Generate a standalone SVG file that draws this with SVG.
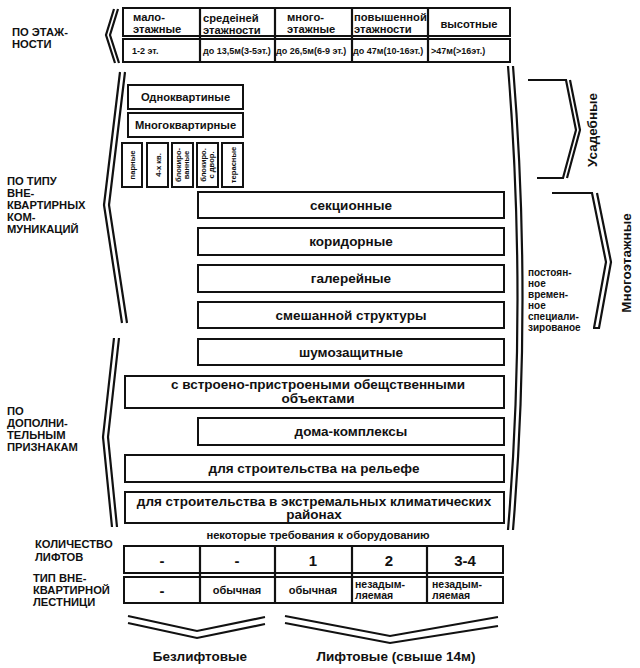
<svg xmlns="http://www.w3.org/2000/svg" width="640" height="668" viewBox="0 0 640 668">
<style>
text{font-family:"Liberation Sans",Arial,sans-serif;font-weight:bold;fill:#111}
.box{fill:#fff;stroke:#111;stroke-width:2}
.ln{fill:none;stroke:#111;stroke-width:2.2;stroke-linejoin:miter}
.c{text-anchor:middle}
.lbl{font-size:11.2px}
.t1{font-size:11.2px}
.t2{font-size:9px}
.m{font-size:13.5px}
.v{font-size:7.6px}
.p{font-size:10px}
</style>
<rect width="640" height="668" fill="#fff"/>

<g id="connectors">
  <polyline class="ln" points="114,9 106,35 115,63"/>
  <polyline class="ln" points="118,9 110,35 119,63"/>
  <polyline class="ln" points="120,72 104,205 122,323"/>
  <polyline class="ln" points="125,72 109,205 127,323"/>
  <polyline class="ln" points="114,338 103,437 112,527"/>
  <polyline class="ln" points="119,338 108,437 117,527"/>
  <path class="ln" d="M508,66 Q527,300 508,530"/>
  <path class="ln" d="M513,66 Q532,300 513,530"/>
  <polyline class="ln" points="528,80 566,80 576,130 563,178 537,178"/>
  <polyline class="ln" points="570,80 580,130 567,178"/>
  <polyline class="ln" points="552,193 592,193 606,262 594,328"/>
  <polyline class="ln" points="597,193 611,262 599,328 593,328"/>
  <polyline class="ln" points="128,616 197,631 265,617"/>
  <polyline class="ln" points="128,623 197,638 265,624"/>
  <polyline class="ln" points="285,616 390,636 498,617"/>
  <polyline class="ln" points="285,623 390,643 498,626"/>
</g>

<g id="label-etazhnost">
  <text class="lbl" x="12" y="35.5">ПО ЭТАЖ-</text>
  <text class="lbl" x="12" y="47.5">НОСТИ</text>
</g>
<g id="label-tip">
  <text class="lbl" x="7" y="185">ПО ТИПУ</text>
  <text class="lbl" x="7" y="197">ВНЕ-</text>
  <text class="lbl" x="7" y="209">КВАРТИРНЫХ</text>
  <text class="lbl" x="7" y="221">КОМ-</text>
  <text class="lbl" x="7" y="233">МУНИКАЦИЙ</text>
</g>
<g id="label-dop">
  <text class="lbl" x="7" y="415">ПО</text>
  <text class="lbl" x="7" y="427">ДОПОЛНИ-</text>
  <text class="lbl" x="7" y="439">ТЕЛЬНЫМ</text>
  <text class="lbl" x="7" y="451">ПРИЗНАКАМ</text>
</g>

<g id="table-top">
  <rect class="box" x="123" y="8" width="387" height="28"/>
  <rect class="box" x="123" y="39" width="387" height="23"/>
  <line class="ln" x1="200" y1="8" x2="200" y2="62"/>
  <line class="ln" x1="275" y1="8" x2="275" y2="62"/>
  <line class="ln" x1="352" y1="8" x2="352" y2="62"/>
  <line class="ln" x1="428" y1="8" x2="428" y2="62"/>
  <text class="t1" x="133" y="20.5">мало-</text>
  <text class="t1" x="133" y="32.5">этажные</text>
  <text class="t1" x="203" y="21.5">средеiней</text>
  <text class="t1" x="203" y="33.5">этажности</text>
  <text class="t1" x="287" y="20.5">много-</text>
  <text class="t1" x="287" y="32.5">этажные</text>
  <text class="t1" x="354" y="20.5">повышенной</text>
  <text class="t1" x="354" y="32.5">этажности</text>
  <text class="t1 c" x="469" y="28">высотные</text>
  <text class="t2" x="132" y="54">1-2 эт.</text>
  <text class="t2" x="203" y="54">до 13,5м(3-5эт.)</text>
  <text class="t2" x="276" y="54">до 26,5м(6-9 эт.)</text>
  <text class="t2" x="353" y="54">до 47м(10-16эт.)</text>
  <text class="t2" x="431" y="54">&gt;47м(&gt;16эт.)</text>
</g>

<g id="odnokv">
  <rect class="box" x="128" y="85" width="115" height="24"/>
  <text class="t1 c" x="185.5" y="101">Одноквартиные</text>
</g>
<g id="mnogokv">
  <rect class="box" x="128" y="113" width="115" height="24"/>
  <text class="t1 c" x="185.5" y="129">Многоквартирные</text>
</g>
<g id="parnye">
  <rect class="box" x="122" y="143" width="20" height="44"/>
  <text class="v c" transform="translate(135,165) rotate(-90)">парные</text>
</g>
<g id="chetyreh">
  <rect class="box" x="147" y="143" width="21" height="44"/>
  <text class="v c" transform="translate(160.5,165) rotate(-90)">4-х кв.</text>
</g>
<g id="blokirovannye">
  <rect class="box" x="172" y="143" width="21" height="44"/>
  <text class="v c" transform="translate(182.5,165) rotate(-90)"><tspan x="0" y="-1.8">блокиро-</tspan><tspan x="0" y="6.6">ванные</tspan></text>
</g>
<g id="blokir-dvor">
  <rect class="box" x="197" y="143" width="21" height="44"/>
  <text class="v c" transform="translate(207.5,165) rotate(-90)"><tspan x="0" y="-1.8">блокиро.</tspan><tspan x="0" y="6.6">с двор.</tspan></text>
</g>
<g id="terasnye">
  <rect class="box" x="222" y="143" width="21" height="44"/>
  <text class="v c" transform="translate(235.5,165) rotate(-90)">терасные</text>
</g>

<g id="sekcionnye">
  <rect class="box" x="198" y="192" width="306" height="26"/>
  <text class="m c" x="351" y="210">секционные</text>
</g>
<g id="koridornye">
  <rect class="box" x="198" y="228" width="306" height="27"/>
  <text class="m c" x="351" y="246">коридорные</text>
</g>
<g id="galereinye">
  <rect class="box" x="198" y="265" width="306" height="27"/>
  <text class="m c" x="351" y="283">галерейные</text>
</g>
<g id="smeshannoi">
  <rect class="box" x="198" y="302" width="306" height="26"/>
  <text class="m c" x="351" y="320">смешанной структуры</text>
</g>
<g id="shumozashchitnye">
  <rect class="box" x="198" y="339" width="306" height="26"/>
  <text class="m c" x="351" y="357">шумозащитные</text>
</g>
<g id="vstroeno">
  <rect class="box" x="125" y="376" width="379" height="32"/>
  <text class="m c" font-size="13" x="318" y="389">с встроено-пристроеными обещственными</text>
  <text class="m c" font-size="13" x="318" y="402.5">объектами</text>
</g>
<g id="doma-kompleksy">
  <rect class="box" x="198" y="418" width="306" height="27"/>
  <text class="m c" x="351" y="436">дома-комплексы</text>
</g>
<g id="relef">
  <rect class="box" x="125" y="455" width="379" height="27"/>
  <text class="m c" x="314" y="473">для строительства на рельефе</text>
</g>
<g id="ekstrem">
  <rect class="box" x="125" y="492" width="379" height="31"/>
  <text class="m c" font-size="13" x="314" y="505.5">для строительства в экстремальных климатических</text>
  <text class="m c" font-size="13" x="314" y="519">районах</text>
</g>

<g id="usadebnye">
  <text class="m c" transform="translate(597,130) rotate(-90)">Усадебные</text>
</g>
<g id="mnogoetazhnye">
  <text class="m c" font-size="13" transform="translate(631,263) rotate(-90)">Многоэтажные</text>
</g>
<g id="postoyannoe">
  <text class="p" x="528" y="276">постоян-</text>
  <text class="p" x="528" y="287">ное</text>
  <text class="p" x="528" y="298">времен-</text>
  <text class="p" x="528" y="309">ное</text>
  <text class="p" x="528" y="320">специали-</text>
  <text class="p" x="528" y="331">зированое</text>
</g>

<g id="oborud">
  <text class="t1 c" font-size="11" x="318" y="539">некоторые требования к оборудованию</text>
  <text class="t1" x="35" y="548">КОЛИЧЕСТВО</text>
  <text class="t1" x="35" y="561">ЛИФТОВ</text>
  <text class="t1" x="33" y="582">ТИП ВНЕ-</text>
  <text class="t1" x="33" y="594">КВАРТИРНОЙ</text>
  <text class="t1" x="33" y="606">ЛЕСТНИЦИ</text>
  <rect class="box" x="124" y="546" width="379" height="27"/>
  <rect class="box" x="124" y="577" width="379" height="26"/>
  <line class="ln" x1="200" y1="546" x2="200" y2="603"/>
  <line class="ln" x1="275" y1="546" x2="275" y2="603"/>
  <line class="ln" x1="352" y1="546" x2="352" y2="603"/>
  <line class="ln" x1="427" y1="546" x2="427" y2="603"/>
  <text class="c" font-size="15" x="162" y="566">-</text>
  <text class="c" font-size="15" x="237" y="566">-</text>
  <text class="c" font-size="15" x="313" y="566">1</text>
  <text class="c" font-size="15" x="389" y="566">2</text>
  <text class="c" font-size="15" x="465" y="566">3-4</text>
  <text class="c" font-size="15" x="162" y="596">-</text>
  <text class="c" font-size="11" x="237" y="594">обычная</text>
  <text class="c" font-size="11" x="313" y="594">обычная</text>
  <text font-size="10.5" x="355" y="588">незадым-</text>
  <text font-size="10.5" x="355" y="599">ляемая</text>
  <text font-size="10.5" x="432" y="588">незадым-</text>
  <text font-size="10.5" x="432" y="599">ляемая</text>
</g>

<g id="bezliftovye">
  <text class="m c" x="200" y="661">Безлифтовые</text>
</g>
<g id="liftovye">
  <text class="m c" x="396" y="661">Лифтовые (свыше 14м)</text>
</g>
</svg>
